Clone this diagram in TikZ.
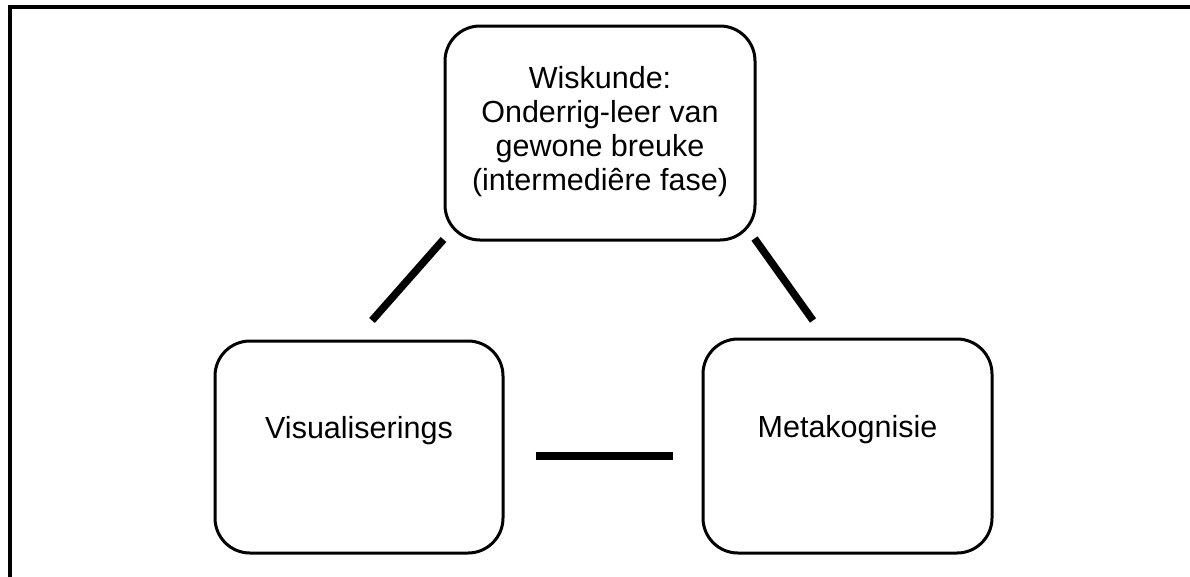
\documentclass[tikz,border=0pt]{standalone}
\usepackage{fontspec}
\setmainfont{Liberation Sans}
\usetikzlibrary{calc}
\tikzset{
  panel/.style={draw=black, line width=3pt, rounded corners=35pt, fill=white, inner sep=0pt},
  lbl/.style={font=\fontsize{30.5}{34}\selectfont, align=center, inner sep=0pt},
  bar/.style={draw=black, line width=7.5pt, line cap=butt},
  hbar/.style={draw=black, line width=8.5pt, line cap=butt},
  frame/.style={draw=black, line width=4pt}
}
\begin{document}
\begin{tikzpicture}[x=1pt, y=-1pt]
  \useasboundingbox (0,0) rectangle (1190,576);
  \fill[white] (0,0) rectangle (1190,576);
  % outer frame (top and left edges)
  \coordinate (fr1) at (1195,7);
  \coordinate (fr2) at (9.5,7);
  \coordinate (fr3) at (9.5,580);
  \draw[frame] (fr1) -- (fr2) -- (fr3);

  % boxes
  \node[panel, minimum width=310pt, minimum height=214pt] (top) at (600,133) {};
  \node[lbl] (toptext) at ($(top.center)+(0,-1)$) {Wiskunde:\\Onderrig-leer van\\gewone breuke\\(intermediêre fase)};

  \node[panel, minimum width=288pt, minimum height=212pt] (vis) at (359,447) {};
  \node[lbl] (vistext) at ($(vis.center)+(0,-16)$) {Visualiserings};

  \node[panel, minimum width=289pt, minimum height=214pt] (meta) at (847.5,446) {};
  \node[lbl] (metatext) at ($(meta.center)+(0,-16)$) {Metakognisie};

  % connectors
  \draw[bar] ($(top.south west)+(0,-2)$) -- ($(vis.north)+(13,-19)$);
  \draw[bar] ($(top.south east)+(-2,-3)$) -- ($(meta.north)+(-34.5,-17)$);
  \draw[hbar] ($(vis.east)+(31,9)$) -- ($(meta.west)+(-29,10)$);
\end{tikzpicture}
\end{document}
